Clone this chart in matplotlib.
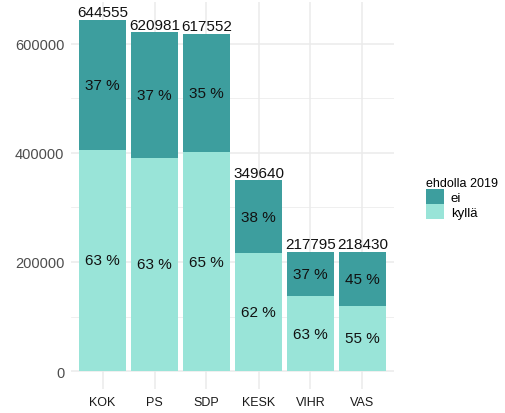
import matplotlib.pyplot as plt
import numpy as np
from matplotlib.patches import Patch

parties = ["KOK", "PS", "SDP", "KESK", "VIHR", "VAS"]
totals = [644555, 620981, 617552, 349640, 217795, 218430]
kylla = [406070, 391218, 401409, 216777, 137211, 120136]
ei = [238485, 229763, 216143, 132863, 80584, 98294]
pct_kylla = ["63 %", "63 %", "65 %", "62 %", "63 %", "55 %"]
pct_ei = ["37 %", "37 %", "35 %", "38 %", "37 %", "45 %"]
yticks = [0, 200000, 400000, 600000]

COL_EI = "#3d9e9e"
COL_KYLLA = "#99e4d8"
GRID = "#ebebeb"

W, H = 505, 414
fig = plt.figure(figsize=(W / 100, H / 100), dpi=100)
plt.rcParams["font.family"] = ["Liberation Sans", "DejaVu Sans"]

# panel in pixel coords
left, right, top, bottom = 71.3, 393.7, 3.0, 389.6
ax = fig.add_axes([left / W, 1 - bottom / H, (right - left) / W, (bottom - top) / H])

x = np.arange(1, len(parties) + 1)
ax.bar(x, kylla, width=0.9, color=COL_KYLLA, zorder=2)
ax.bar(x, ei, width=0.9, bottom=kylla, color=COL_EI, zorder=2)

for xi, t, k, e, pk, pe in zip(x, totals, kylla, ei, pct_kylla, pct_ei):
    ax.text(xi, k / 2, pk, ha="center", va="center", fontsize=11, color="#111111", zorder=3)
    ax.text(xi, k + e / 2, pe, ha="center", va="center", fontsize=11, color="#111111", zorder=3)
    ax.text(xi, t + 1500, str(t), ha="center", va="bottom", fontsize=11, color="#111111", zorder=3)

ymax = max(totals)
ax.set_xlim(0.4, len(parties) + 0.6)
ax.set_ylim(-0.05 * ymax, 1.05 * ymax)

ax.set_yticks(yticks)
ax.set_yticklabels([str(v) for v in yticks])
ax.set_yticks([100000, 300000, 500000], minor=True)
ax.set_xticks(x)
ax.set_xticklabels(parties)

ax.grid(True, which="major", color=GRID, linewidth=1.1, zorder=0)
ax.grid(True, which="minor", axis="y", color=GRID, linewidth=0.55, zorder=0)
ax.tick_params(axis="both", which="both", length=0)
ax.tick_params(axis="y", labelsize=10.5, colors="#4d4d4d", pad=5)
ax.tick_params(axis="x", labelsize=9, colors="#1a1a1a", pad=5)
for s in ax.spines.values():
    s.set_visible(False)

handles = [Patch(facecolor=COL_EI, edgecolor="none", label="ei"),
           Patch(facecolor=COL_KYLLA, edgecolor="none", label="kyllä")]
leg = fig.legend(handles=handles, title="ehdolla 2019", loc="upper left",
                 bbox_to_anchor=(414 / W, 1 - 166 / H), frameon=False,
                 fontsize=9.5, title_fontsize=9, handlelength=1.4, handleheight=1.4,
                 handletextpad=0.5, labelspacing=0.0)
leg._legend_box.align = "left"

fig.savefig("out.png", dpi=100)
